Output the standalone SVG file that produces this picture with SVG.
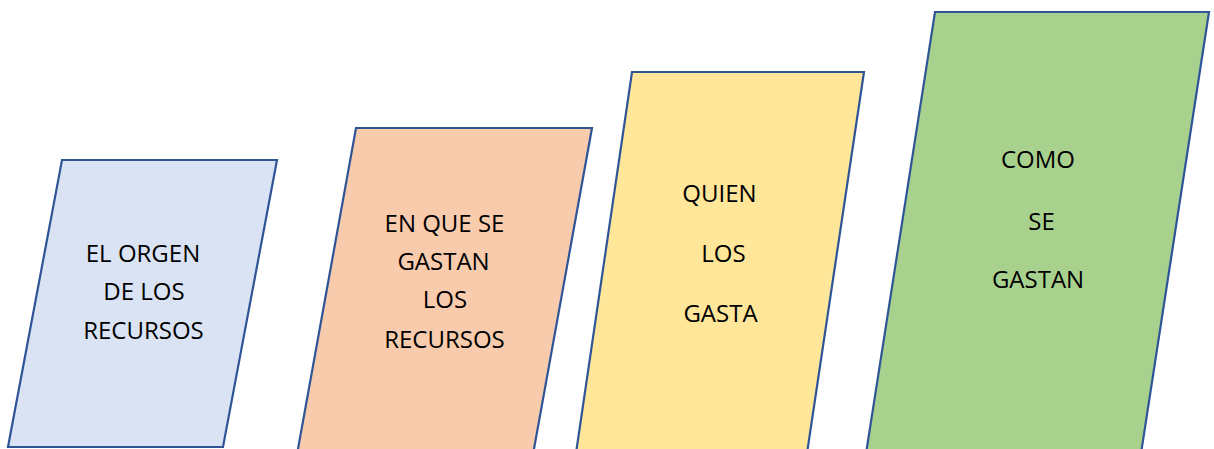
<svg xmlns="http://www.w3.org/2000/svg" width="1214" height="449" viewBox="0 0 1214 449">
<style>
.box{stroke:#2F5597;stroke-width:2.2;stroke-linejoin:miter}
.t{font-family:"Open Sans","Liberation Sans",sans-serif;font-size:24px;fill:#000;text-anchor:middle}
</style>
<rect width="1214" height="449" fill="#fff"/>
<g id="connectors"></g>
<g id="node1">
<polygon class="box" fill="#DAE3F3" points="62,160 277,160 223,447 8,447"/>
<text class="t" x="143" y="262">EL ORGEN</text>
<text class="t" x="144" y="300">DE LOS</text>
<text class="t" x="143.5" y="339">RECURSOS</text>
</g>
<g id="node2">
<polygon class="box" fill="#F8CBAD" points="356,128 592,128 532,460 296,460"/>
<text class="t" x="444.5" y="232">EN QUE SE</text>
<text class="t" x="443.5" y="270">GASTAN</text>
<text class="t" x="445" y="308">LOS</text>
<text class="t" x="444.5" y="348">RECURSOS</text>
</g>
<g id="node3">
<polygon class="box" fill="#FFE699" points="632,72 864,72 806,460 575,460"/>
<text class="t" x="719.5" y="202">QUIEN</text>
<text class="t" x="723.5" y="262">LOS</text>
<text class="t" x="720.5" y="322">GASTA</text>
</g>
<g id="node4">
<polygon class="box" fill="#A9D18E" points="935,12 1209,12 1140,460 865,460"/>
<text class="t" x="1038" y="168">COMO</text>
<text class="t" x="1041.5" y="230">SE</text>
<text class="t" x="1038" y="288">GASTAN</text>
</g>
</svg>
